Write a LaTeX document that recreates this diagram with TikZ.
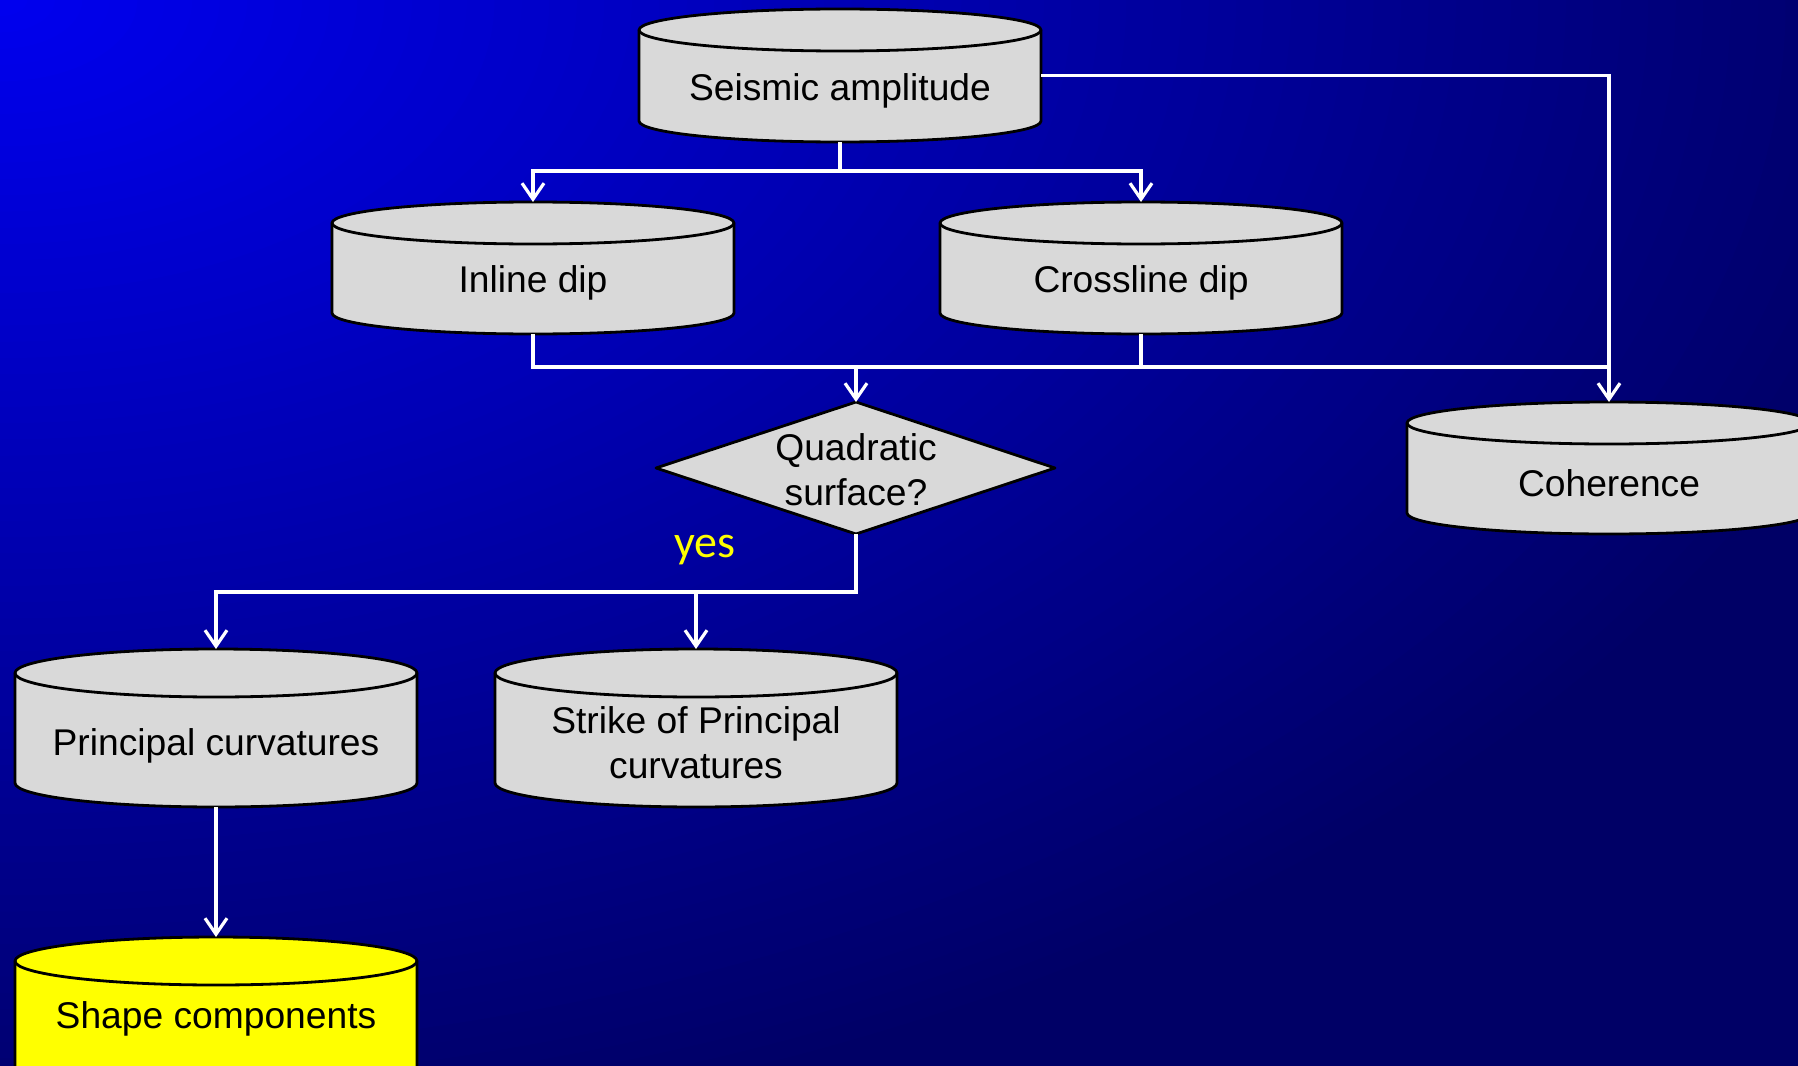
\documentclass[tikz,border=0pt]{standalone}
\usepackage{fontspec}
\setmainfont{Liberation Sans}
\newfontfamily\yesfont{Carlito}
\usetikzlibrary{arrows.meta}

\definecolor{bgbright}{RGB}{0,0,240}
\definecolor{bgdark}{RGB}{0,0,102}
\definecolor{boxgrey}{RGB}{217,217,217}
\definecolor{hilite}{RGB}{255,255,0}

\tikzset{
  cylwall/.style={draw=black, line width=1.4pt, line join=round},
  frame/.style={inner sep=0pt, outer sep=0pt},
  boxtext/.style={font=\fontsize{18.6}{22.5}\selectfont, text=black, align=center, inner sep=0pt},
  yeslabel/.style={font=\yesfont\fontsize{23}{27}\selectfont, text=hilite, inner sep=0pt},
  wire/.style={draw=white, line width=1.6pt},
  flow/.style={wire, -{Straight Barb[length=8pt, width=11pt]}},
}

% #1 name, #2 centre x, #3 top, #4 bottom, #5 width, #6 ellipse half-height,
% #7 fill, #8 text y, #9 text  (all positions in px, y downwards)
\newcommand\drawcyl[9]{%
  \pgfmathsetmacro\cylL{#2-#5/2}%
  \pgfmathsetmacro\cylR{#2+#5/2}%
  \pgfmathsetmacro\cylT{#3+#6}%
  \pgfmathsetmacro\cylB{#4-#6}%
  \pgfmathsetmacro\cylRx{#5/4}%
  \pgfmathsetmacro\cylRy{#6/2}%
  \pgfmathsetmacro\cylW{#5/2}%
  \pgfmathsetmacro\cylH{(#4-#3)/2}%
  \pgfmathsetmacro\cylM{(#3+#4)/2}%
  \filldraw[cylwall, fill=#7] (\cylL,\cylT)
    arc[start angle=180, end angle=0, x radius=\cylRx pt, y radius=\cylRy pt]
    -- (\cylR,\cylB)
    arc[start angle=0, end angle=-180, x radius=\cylRx pt, y radius=\cylRy pt]
    -- cycle;
  \draw[cylwall] (\cylL,\cylT)
    arc[start angle=180, end angle=360, x radius=\cylRx pt, y radius=\cylRy pt];
  \node[frame, minimum width=\cylW pt, minimum height=\cylH pt] (#1) at (#2,\cylM) {};
  \node[boxtext] (#1-text) at (#2,#8) {#9};
}

\begin{document}
\begin{tikzpicture}[x=0.5pt, y=-0.5pt]
  \useasboundingbox (0,0) rectangle (1798,1065);

  % background: elliptical glow from the top-left corner fading to navy
  \fill[bgdark] (-20,-20) rectangle (1820,1090);
  \foreach \i in {72,71,...,1}{
    \pgfmathsetmacro\pct{100-100/72*\i}
    \pgfmathsetmacro\rx{989/72*\i}
    \pgfmathsetmacro\ry{586/72*\i}
    \fill[bgbright!\pct!bgdark] (0,0) ellipse [x radius=\rx pt, y radius=\ry pt];
  }

  % data volumes
  \drawcyl{sa}{840}{9}{142}{402}{21}{boxgrey}{90.5}{Seismic amplitude}
  \drawcyl{inl}{533}{202}{334}{402}{21}{boxgrey}{282.5}{Inline dip}
  \drawcyl{xl}{1141}{202}{334}{402}{21}{boxgrey}{282.5}{Crossline dip}
  \drawcyl{coh}{1609}{402}{534}{404}{21}{boxgrey}{483.5}{Coherence}
  \drawcyl{pc}{216}{649}{807}{402}{24}{boxgrey}{745.5}{Principal curvatures}
  \drawcyl{sk}{696}{649}{807}{402}{24}{boxgrey}{743}{Strike of Principal\\curvatures}
  \drawcyl{shp}{216}{937}{1095}{402}{24}{hilite}{1018.5}{Shape components}

  % decision
  \filldraw[cylwall, fill=boxgrey] (656,468) -- (856,402) -- (1055,468) -- (856,534) -- cycle;
  \node[frame, minimum width=199.5pt, minimum height=66pt] (quad) at (856,468) {};
  \node[boxtext] (quad-text) at (856,470) {Quadratic\\surface?};

  \node[yeslabel] (yes) at (705,550) {yes};

  % connectors
  \coordinate (split1) at (840,171);
  \coordinate (merge) at (856,367);
  \coordinate (mright) at (1609,367);
  \coordinate (split2) at (856,592);

  \draw[wire] (sa.south) -- (split1);
  \draw[flow] (split1) -| (inl.north);
  \draw[flow] (split1) -| (xl.north);
  \draw[flow] (sa.east) -| (coh.north);

  \draw[wire] (inl.south) |- (mright);
  \draw[wire] (xl.south) -- (xl.south |- mright);
  \draw[flow] (merge) -- (quad.north);

  \draw[flow] (quad.south) -- (split2) -| (pc.north);
  \draw[flow] (sk.north |- split2) -- (sk.north);

  \draw[flow] (pc.south) -- (shp.north);
\end{tikzpicture}
\end{document}
